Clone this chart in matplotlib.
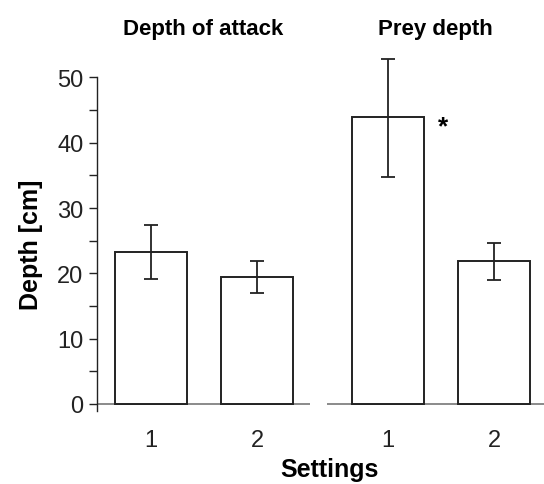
import matplotlib
matplotlib.use("Agg")
import matplotlib.pyplot as plt
from matplotlib.ticker import MultipleLocator

plt.rcParams["font.family"] = ["Liberation Sans", "DejaVu Sans"]

settings = [1, 2]
attack_mean = [23.3, 19.4]
attack_lo = [19.1, 17.0]
attack_hi = [27.4, 21.9]
prey_mean = [44.0, 21.9]
prey_lo = [34.8, 19.0]
prey_hi = [52.8, 24.6]

fig = plt.figure(figsize=(5.44, 4.85), dpi=100)
ax1 = fig.add_axes([0.1783, 0.1515, 0.3915, 0.734])
ax2 = fig.add_axes([0.601, 0.1515, 0.399, 0.734])

def panel(ax, mean, lo, hi, title):
    err = [[m - l for m, l in zip(mean, lo)], [h - m for m, h in zip(mean, hi)]]
    ax.bar(settings, mean, width=0.68, color="white", edgecolor="#222222", linewidth=1.4, zorder=2)
    ax.errorbar(settings, mean, yerr=err, fmt="none", ecolor="#222222", elinewidth=1.3,
                capsize=4.8, capthick=1.3, zorder=3)
    ax.axhline(0, color="#777777", linewidth=1.2, zorder=1)
    ax.set_ylim(-1.0, 53.5)
    ax.set_title(title, fontsize=16, fontweight="bold", pad=15)
    for s in ["top", "right", "bottom"]:
        ax.spines[s].set_visible(False)
    ax.set_xticks(settings)
    ax.set_xticklabels([str(s) for s in settings], fontsize=17, color="#222222")
    ax.tick_params(axis="x", length=0, pad=13)

panel(ax1, attack_mean, attack_lo, attack_hi, "Depth of attack")
panel(ax2, prey_mean, prey_lo, prey_hi, "Prey depth")

ax1.set_xlim(0.49, 2.5)
ax2.set_xlim(0.425, 2.47)

ax1.spines["left"].set_bounds(-1.0, 50)
ax1.spines["left"].set_color("#222222")
ax1.spines["left"].set_linewidth(1.0)
ax1.set_yticks([0, 10, 20, 30, 40, 50])
ax1.yaxis.set_minor_locator(MultipleLocator(5))
ax1.tick_params(axis="y", which="both", length=5.8, width=1.0, labelsize=17, pad=4, colors="#222222")
ax1.set_ylabel("Depth [cm]", fontsize=18, fontweight="bold", labelpad=10, y=0.468)

ax2.spines["left"].set_visible(False)
ax2.set_yticks([])

ax2.text(1.0 + 0.34 + 0.18, 42.5, "*", fontsize=19, fontweight="bold", ha="center", va="center")

fig.text(0.605, 0.031, "Settings", fontsize=18, fontweight="bold", ha="center", va="center")

fig.savefig("out.png", dpi=100)
